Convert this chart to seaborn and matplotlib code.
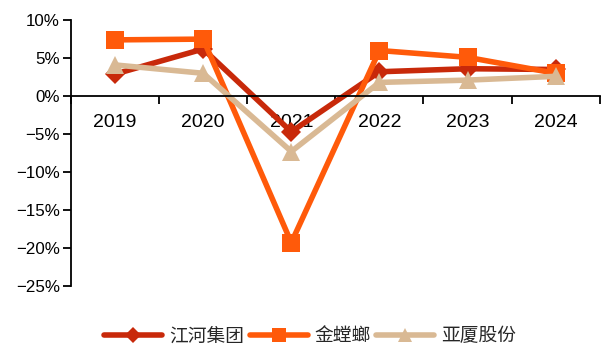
import matplotlib
matplotlib.use("Agg")
import matplotlib.pyplot as plt
import seaborn as sns
import pandas as pd
import numpy as np
from matplotlib.ticker import FixedLocator, FuncFormatter

years = ["2019", "2020", "2021", "2022", "2023", "2024"]
jianghe = [2.9, 6.2, -4.7, 3.2, 3.6, 3.5]
jintanglang = [7.4, 7.5, -19.3, 6.0, 5.1, 3.0]
yasha = [4.1, 3.0, -7.3, 1.8, 2.1, 2.6]
series_names = ["江河集团", "金螳螂", "亚厦股份"]
colors = ["#C8290A", "#FF5A0A", "#D9B994"]
markers = ["D", "s", "^"]
yticks = [10, 5, 0, -5, -10, -15, -20, -25]

df = pd.DataFrame({
    "year": years * 3,
    "value": jianghe + jintanglang + yasha,
    "company": sum([[n] * len(years) for n in series_names], []),
})

sns.set_theme(style="white")
plt.rcParams["font.family"] = ["Liberation Sans", "Noto Sans CJK SC", "DejaVu Sans"]
plt.rcParams["axes.unicode_minus"] = True

fig = plt.figure(figsize=(6.07, 3.47), dpi=100)
ax = fig.add_axes([0.117, 0.176, 0.871, 0.766])

msizes = {"江河集团": 10.5, "金螳螂": 13, "亚厦股份": 13}
for name, col, mk in zip(series_names, colors, markers):
    sub = df[df["company"] == name]
    sns.lineplot(data=sub, x="year", y="value", ax=ax, color=col, marker=mk,
                 markersize=msizes[name], markeredgewidth=0, linewidth=4.0,
                 label=name, sort=False)

ax.set_xlim(-0.5, len(years) - 0.5)
ax.set_ylim(-25, 10)
ax.yaxis.set_major_locator(FixedLocator(yticks))
ax.yaxis.set_major_formatter(FuncFormatter(lambda v, p: f"{v:.0f}%".replace("-", "\u2212")))
ax.set_xlabel("")
ax.set_ylabel("")

for s in ["top", "right"]:
    ax.spines[s].set_visible(False)
ax.spines["bottom"].set_position(("data", 0))
ax.spines["left"].set_color("black")
ax.spines["bottom"].set_color("black")
ax.spines["left"].set_linewidth(1.3)
ax.spines["bottom"].set_linewidth(1.3)

ax.set_xticks(range(len(years)))
ax.set_xticklabels(years)
ax.xaxis.set_minor_locator(FixedLocator(np.arange(-0.5, len(years), 1.0)))
ax.tick_params(axis="x", which="major", length=0, pad=13, labelsize=14, colors="black")
ax.tick_params(axis="x", which="minor", length=6, width=1.3, direction="out", color="black", bottom=True)
ax.tick_params(axis="y", which="major", length=6, width=1.3, direction="out", left=True,
               labelsize=12.2, colors="black", pad=2)

leg = ax.legend(loc="upper center", bbox_to_anchor=(0.452, -0.085), ncol=3, frameon=False,
                handlelength=3.1, columnspacing=0.3, handletextpad=0.35, markerscale=0.8,
                prop={"family": ["Noto Sans CJK SC"], "size": 13.5})

fig.savefig("out.png", dpi=100)
